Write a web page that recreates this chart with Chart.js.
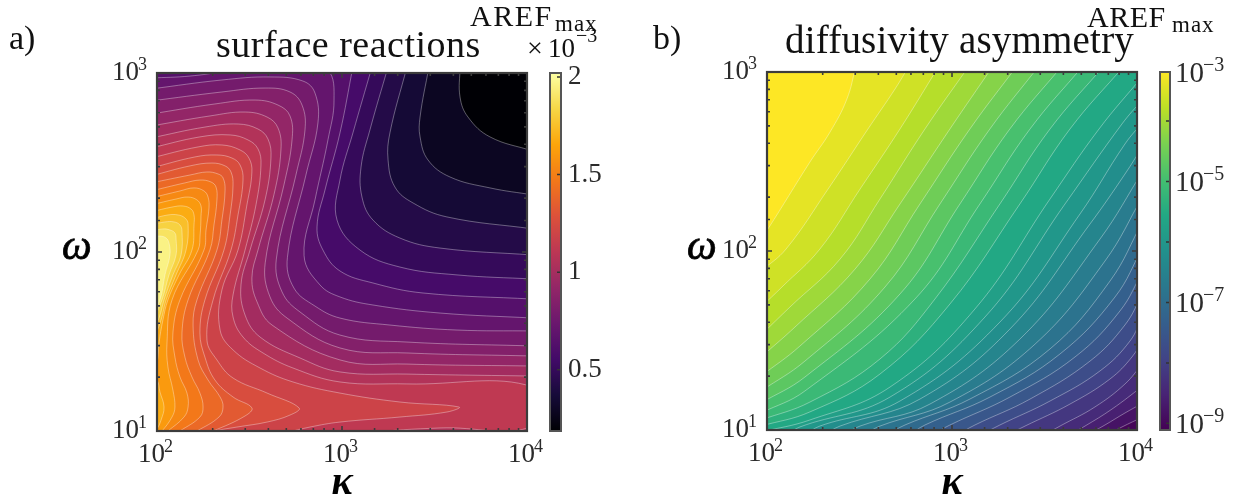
<!DOCTYPE html>
<html>
<head>
<meta charset="utf-8">
<title>AREF max maps</title>
<script src="https://cdn.jsdelivr.net/npm/chart.js@4"></script>
<style>
  html, body { margin: 0; background: #fff; overflow: hidden; }
  #page { position: relative; width: 1250px; height: 504px; overflow: hidden; }
  canvas { position: absolute; top: 0; }
</style>
</head>
<body>
<div id="page">
  <canvas id="panelA" width="625" height="504" style="left:0"></canvas>
  <canvas id="panelB" width="625" height="504" style="left:625px"></canvas>
  <canvas id="barA" width="90" height="504" style="left:535px"></canvas>
  <canvas id="barB" width="105" height="504" style="left:1145px"></canvas>
</div>
<script>
// axis ticks
const kappaTicks = [100, 1000, 10000];
const kappaExponents = ["2", "3", "4"];
const omegaTicks = [10, 100, 1000];
const omegaExponents = ["1", "2", "3"];

// colorbars
const surfaceBarRange = [0.187, 2.02];       // x 10^-3
const surfaceBarTicks = [0.5, 1, 1.5, 2];
const surfaceBarLabels = ["0.5", "1", "1.5", "2"];
const diffBarExponents = [-9.11, -3.19];
const diffBarTicks = [6.46e-4, 1e-4, 1e-5, 1e-6, 1e-7, 1e-8, 1e-9];
const diffBarLabels = ["−3", "", "−5", "", "−7", "", "−9"];

// colormap samples
const inferno = ["#000004", "#160b39", "#420a68", "#6a176e", "#932667", "#bc3754", "#dd513a", "#f37819", "#fca50a", "#f6d746", "#fcffa4"];
const viridis = ["#440154", "#482475", "#414487", "#355f8d", "#2a788e", "#21918c", "#22a884", "#44bf70", "#7ad151", "#bddf26", "#fde725"];

// contour lines, each point is [log10 kappa, log10 omega]
// a) surface reactions
const surfL01 = [[3.638,3.034],[3.638,2.866],[3.681,2.754],[3.800,2.643],[4.032,2.564]];
const surfL02 = [[3.470,3.034],[3.422,2.754],[3.422,2.643],[3.465,2.514],[3.584,2.419],[3.800,2.358],[4.032,2.319]];
const surfL03 = [[3.351,3.034],[3.259,2.665],[3.249,2.514],[3.286,2.363],[3.384,2.274],[3.567,2.196],[4.032,2.129]];
const surfL04 = [[3.249,3.034],[3.151,2.682],[3.103,2.475],[3.108,2.307],[3.167,2.179],[3.313,2.078],[3.530,2.022],[4.032,1.983]];
const surfL05 = [[3.162,3.034],[3.059,2.665],[2.989,2.402],[2.973,2.179],[3.097,2.011],[3.313,1.916],[3.622,1.872],[4.032,1.849]];
const surfL06 = [[3.059,3.034],[2.989,2.665],[2.908,2.346],[2.865,2.140],[2.897,2.011],[2.989,1.894],[3.167,1.827],[3.438,1.771],[4.032,1.737]];
const surfL07 = [[1.968,2.972],[2.178,2.983],[2.362,3.011],[2.557,3.062],[2.773,3.062],[2.924,3.017],[2.957,2.849],[2.924,2.626],[2.854,2.291],[2.795,1.980],[2.881,1.816],[2.989,1.749],[3.167,1.704],[3.530,1.659],[4.032,1.631]];
const surfL08 = [[1.968,2.911],[2.351,2.961],[2.611,2.978],[2.789,2.955],[2.854,2.888],[2.870,2.721],[2.805,2.430],[2.705,1.970],[2.740,1.799],[2.854,1.698],[2.989,1.631],[3.259,1.592],[3.622,1.564],[4.032,1.559]];
const surfL09 = [[1.968,2.844],[2.351,2.894],[2.584,2.916],[2.719,2.894],[2.784,2.821],[2.800,2.682],[2.751,2.430],[2.645,1.960],[2.676,1.777],[2.773,1.665],[2.989,1.536],[3.351,1.497],[4.032,1.475]];
const surfL10 = [[1.968,2.771],[2.313,2.827],[2.530,2.849],[2.654,2.821],[2.719,2.760],[2.730,2.626],[2.686,2.374],[2.585,1.940],[2.611,1.749],[2.703,1.631],[2.989,1.464],[3.351,1.436],[4.032,1.419]];
const surfL11 = [[1.968,2.704],[2.286,2.760],[2.476,2.782],[2.595,2.754],[2.654,2.693],[2.670,2.570],[2.632,2.319],[2.546,2.011],[2.513,1.855],[2.541,1.721],[2.622,1.592],[2.989,1.397],[3.351,1.374],[4.032,1.363]];
const surfL12 = [[1.968,2.637],[2.259,2.698],[2.438,2.715],[2.546,2.687],[2.600,2.631],[2.616,2.525],[2.584,2.291],[2.503,2.011],[2.454,1.816],[2.476,1.648],[2.557,1.525],[2.773,1.408],[2.989,1.330],[3.351,1.318],[4.032,1.307]];
const surfL13 = [[1.968,2.581],[2.232,2.643],[2.395,2.654],[2.492,2.626],[2.546,2.576],[2.562,2.486],[2.535,2.263],[2.476,2.011],[2.411,1.760],[2.411,1.637],[2.465,1.525],[2.573,1.436],[2.735,1.352],[2.989,1.274],[3.351,1.263],[4.032,1.246],[4.032,1.028],[3.530,1.017],[3.135,0.989],[2.989,0.955]];
const surfL14 = [[1.968,2.525],[2.222,2.587],[2.351,2.598],[2.449,2.570],[2.497,2.525],[2.513,2.447],[2.486,2.263],[2.438,2.011],[2.351,1.788],[2.341,1.564],[2.411,1.453],[2.557,1.352],[2.735,1.274],[2.989,1.212],[3.313,1.162],[3.632,1.134],[3.567,1.106],[3.313,1.078],[2.989,1.050],[2.827,1.022],[2.692,0.989],[2.557,0.955]];
const surfL15 = [[1.968,2.469],[2.205,2.531],[2.324,2.542],[2.405,2.525],[2.449,2.486],[2.465,2.402],[2.438,2.207],[2.400,2.011],[2.303,1.732],[2.270,1.508],[2.324,1.397],[2.411,1.296],[2.595,1.212],[2.768,1.129],[2.719,1.089],[2.595,1.050],[2.432,1.022],[2.313,1.000],[2.205,0.966]];
const surfL16 = [[1.968,2.425],[2.178,2.481],[2.297,2.497],[2.368,2.481],[2.400,2.447],[2.411,2.374],[2.395,2.207],[2.362,2.011],[2.259,1.732],[2.232,1.548],[2.259,1.413],[2.313,1.285],[2.411,1.190],[2.513,1.129],[2.476,1.084],[2.303,1.000],[2.205,0.966]];
const surfL17 = [[1.968,2.386],[2.178,2.430],[2.270,2.447],[2.330,2.436],[2.357,2.414],[2.368,2.346],[2.351,2.179],[2.324,2.011],[2.216,1.732],[2.195,1.592],[2.222,1.397],[2.276,1.285],[2.341,1.190],[2.357,1.134],[2.335,1.078],[2.216,1.000],[2.151,0.966]];
const surfL18 = [[1.968,2.341],[2.151,2.386],[2.232,2.402],[2.292,2.391],[2.319,2.363],[2.324,2.291],[2.308,2.151],[2.286,2.011],[2.168,1.732],[2.135,1.548],[2.151,1.413],[2.189,1.302],[2.232,1.212],[2.249,1.134],[2.232,1.078],[2.124,1.000],[2.070,0.966]];
const surfL19 = [[1.968,2.302],[2.124,2.341],[2.200,2.358],[2.254,2.341],[2.276,2.307],[2.281,2.246],[2.265,2.123],[2.254,2.011],[2.124,1.732],[2.086,1.548],[2.097,1.413],[2.124,1.302],[2.162,1.212],[2.168,1.134],[2.146,1.078],[2.059,1.000],[2.016,0.966]];
const surfL20 = [[1.968,2.263],[2.103,2.296],[2.168,2.307],[2.216,2.291],[2.238,2.257],[2.238,2.201],[2.233,2.095],[2.222,2.011],[2.081,1.732],[2.054,1.492],[2.059,1.358],[2.086,1.229],[2.097,1.134],[2.081,1.078],[2.027,1.000],[1.989,0.966]];
const surfL21 = [[1.968,2.224],[2.081,2.251],[2.141,2.257],[2.184,2.240],[2.200,2.207],[2.200,2.151],[2.189,2.011],[2.119,1.872],[2.059,1.732],[2.032,1.620],[2.011,1.492],[2.000,1.380],[1.968,1.313]];
const surfL21b = [[1.968,1.296],[2.000,1.285],[2.016,1.218],[2.038,1.134],[2.022,1.061],[2.000,1.011],[1.968,0.966]];
const surfL22 = [[1.968,2.184],[2.059,2.207],[2.114,2.207],[2.151,2.190],[2.168,2.157],[2.157,2.011],[2.103,1.872],[2.049,1.732],[2.022,1.620],[1.968,1.470]];
const surfL23 = [[1.968,2.151],[2.043,2.168],[2.092,2.168],[2.124,2.151],[2.135,2.117],[2.130,1.983],[2.086,1.872],[2.038,1.732],[2.011,1.631],[1.968,1.536]];
const surfL24 = [[1.968,2.117],[2.032,2.129],[2.070,2.123],[2.097,2.106],[2.103,2.073],[2.103,1.983],[2.065,1.872],[2.027,1.732],[1.968,1.590]];
const surfL25 = [[1.968,2.084],[2.016,2.089],[2.049,2.078],[2.065,2.050],[2.070,1.983],[2.043,1.872],[2.016,1.732],[1.968,1.640]];
const surfContours = [surfL01, surfL02, surfL03, surfL04, surfL05, surfL06, surfL07, surfL08, surfL09, surfL10, surfL11, surfL12, surfL13, surfL14, surfL15, surfL16, surfL17, surfL18, surfL19, surfL20, surfL21, surfL21b, surfL22, surfL23, surfL24, surfL25];
// value of the band inside each contour, x 10^-3
const surfBase = 0.19;
const surfBands = [0.29, 0.36, 0.43, 0.50, 0.57, 0.64, 0.71, 0.78, 0.85, 0.92, 0.99, 1.06, 1.12, 1.19, 1.26, 1.33, 1.40, 1.47, 1.54, 1.61, 1.68, 1.68, 1.75, 1.82, 1.89, 1.96];

// b) diffusivity asymmetry
const diffL01 = [[1.968,2.073],[2.005,2.123],[2.232,2.497],[2.341,2.665],[2.432,2.849],[2.481,3.034]];
const diffL02 = [[1.968,1.888],[2.103,2.011],[2.330,2.346],[2.546,2.682],[2.692,2.905],[2.768,3.034]];
const diffL03 = [[1.968,1.687],[2.081,1.799],[2.286,2.011],[2.503,2.346],[2.719,2.682],[2.930,3.034]];
const diffL04 = [[1.968,1.531],[2.124,1.687],[2.395,1.955],[2.611,2.291],[2.854,2.682],[3.092,3.034]];
const diffL05 = [[1.968,1.408],[2.151,1.575],[2.476,1.899],[2.719,2.263],[2.989,2.682],[3.222,3.034]];
const diffL06 = [[1.968,1.302],[2.178,1.469],[2.557,1.844],[2.827,2.263],[3.097,2.682],[3.351,3.034]];
const diffL07 = [[1.968,1.218],[2.205,1.385],[2.638,1.799],[2.935,2.263],[3.205,2.682],[3.470,3.034]];
const diffL08 = [[1.968,1.151],[2.205,1.296],[2.719,1.760],[3.043,2.263],[3.313,2.682],[3.595,3.034]];
const diffL09 = [[1.968,1.095],[2.205,1.218],[2.800,1.732],[3.151,2.263],[3.422,2.682],[3.708,3.034]];
const diffL10 = [[1.968,1.056],[2.232,1.156],[2.611,1.397],[2.908,1.732],[3.259,2.263],[3.530,2.682],[3.821,3.034]];
const diffL11 = [[1.968,1.022],[2.232,1.101],[2.611,1.313],[2.989,1.704],[3.367,2.263],[3.638,2.682],[3.930,3.034]];
const diffL12 = [[1.968,0.989],[2.232,1.056],[2.665,1.240],[3.124,1.676],[3.530,2.291],[3.795,2.682],[4.032,2.978]];
const diffL13 = [[2.097,0.966],[2.178,1.017],[2.665,1.184],[3.178,1.631],[3.611,2.263],[3.919,2.710],[4.032,2.849]];
const diffL14 = [[2.195,0.966],[2.286,1.022],[2.719,1.162],[3.259,1.603],[3.692,2.207],[3.935,2.598],[4.032,2.721]];
const diffL15 = [[2.297,0.966],[2.395,1.022],[2.827,1.173],[3.313,1.564],[3.746,2.151],[3.935,2.430],[4.032,2.587]];
const diffL16 = [[2.405,0.966],[2.503,1.022],[2.881,1.145],[3.367,1.508],[3.800,2.067],[4.032,2.447]];
const diffL17 = [[2.513,0.966],[2.611,1.022],[2.989,1.156],[3.449,1.480],[3.827,1.944],[4.032,2.307]];
const diffL18 = [[2.638,0.966],[2.746,1.028],[3.097,1.173],[3.530,1.453],[3.854,1.832],[4.032,2.168]];
const diffL19 = [[2.762,0.966],[2.854,1.028],[3.205,1.184],[3.584,1.425],[3.881,1.743],[4.032,2.022]];
const diffL20 = [[2.881,0.966],[2.989,1.028],[3.313,1.184],[3.665,1.408],[3.908,1.665],[4.032,1.888]];
const diffL21 = [[3.016,0.966],[3.124,1.028],[3.422,1.173],[3.746,1.385],[3.935,1.587],[4.032,1.765]];
const diffL22 = [[3.146,0.966],[3.259,1.028],[3.530,1.162],[3.800,1.330],[3.962,1.497],[4.032,1.643]];
const diffL23 = [[3.286,0.966],[3.395,1.022],[3.638,1.145],[3.854,1.285],[3.973,1.408],[4.032,1.508]];
const diffL24 = [[3.486,0.966],[3.584,1.022],[3.773,1.129],[3.935,1.257],[4.032,1.374]];
const diffL25 = [[3.622,0.966],[3.719,1.022],[3.865,1.117],[4.032,1.246]];
const diffL26 = [[3.719,0.966],[3.827,1.028],[3.935,1.095],[4.032,1.151]];
const diffL27 = [[3.827,0.966],[3.919,1.017],[4.032,1.073]];
const diffContours = [diffL27, diffL26, diffL25, diffL24, diffL23, diffL22, diffL21, diffL20, diffL19, diffL18, diffL17, diffL16, diffL15, diffL14, diffL13, diffL12, diffL11, diffL10, diffL09, diffL08, diffL07, diffL06, diffL05, diffL04, diffL03, diffL02, diffL01];
// log10 of the band on the high side of each contour, same order as diffContours
const diffBase = -9.03;
const diffBands = [-8.81, -8.59, -8.38, -8.16, -7.94, -7.73, -7.51, -7.30, -7.08, -6.86, -6.65, -6.43, -6.22, -6.00, -5.78, -5.57, -5.35, -5.13, -4.92, -4.70, -4.49, -4.27, -4.05, -3.84, -3.62, -3.41, -3.19];

const SERIF = '"Liberation Serif"';
const LO_K = 1.9, HI_K = 4.1, LO_W = 0.9, HI_W = 3.1;

function cmap(stops, t) {
  t = Math.min(1, Math.max(0, t)) * (stops.length - 1);
  const i = Math.min(stops.length - 2, Math.floor(t));
  const hex = s => [1, 3, 5].map(p => parseInt(s.substr(p, 2), 16));
  const a = hex(stops[i]), b = hex(stops[i + 1]);
  const c = a.map((v, k) => Math.round(v + (b[k] - v) * (t - i)));
  return `rgb(${c[0]},${c[1]},${c[2]})`;
}

function toPoints(pts) {
  return pts.map(p => ({ x: 10 ** p[0], y: 10 ** p[1] }));
}

// one more off-plot point, keeps the curve tangent the same for the fill and the line
function runOut(pts) {
  const a = pts[pts.length - 2], b = pts[pts.length - 1];
  return [...pts, [2 * b[0] - a[0], 2 * b[1] - a[1]]];
}

// a) the high side is below and left of each line
function closeSurface(pts) {
  const out = runOut(pts);
  const first = pts[0], last = pts[pts.length - 1];
  if (last[0] > 4) out.push([HI_K, LO_W]);
  if (last[0] > 4 || last[1] < 1) out.push([LO_K, LO_W]);
  if (first[1] > 3) out.push([LO_K, HI_W]);
  return out;
}

// b) the high side is above and left of each line
function closeDiff(pts) {
  const out = runOut(pts);
  const first = pts[0], last = pts[pts.length - 1];
  if (last[0] > 4) out.push([HI_K, HI_W]);
  out.push([LO_K, HI_W]);
  if (first[1] < 1) out.push([LO_K, LO_W]);
  return out;
}

function contourDatasets(contours, closeFn, baseColor, colors) {
  const sets = [{
    data: toPoints([[LO_K, LO_W], [HI_K, LO_W], [HI_K, HI_W], [LO_K, HI_W]]),
    showLine: true, fill: "shape", backgroundColor: baseColor, borderWidth: 0, pointRadius: 0, tension: 0, order: 1000
  }];
  contours.forEach((c, i) => {
    sets.push({
      data: toPoints(closeFn(c)),
      showLine: true, fill: "shape", backgroundColor: colors[i], borderWidth: 0, pointRadius: 0, tension: 0.4, order: 900 - i
    });
  });
  contours.forEach(c => {
    sets.push({
      data: toPoints(runOut(c)),
      showLine: true, fill: false, borderColor: "rgba(255,255,255,0.5)", borderWidth: 0.7, pointRadius: 0, tension: 0.4, order: 0
    });
  });
  return sets;
}

// frame, short inward ticks and the 10^n labels, placed through the scales
const framePlugin = {
  id: "frame",
  afterDatasetsDraw(chart) {
    const { ctx, chartArea: a, scales } = chart;
    ctx.save();
    ctx.strokeStyle = "#3c3c3c";
    ctx.lineWidth = 1.6;
    ctx.beginPath();
    scales.x.ticks.forEach(t => {
      const px = scales.x.getPixelForValue(t.value);
      const len = kappaTicks.includes(Math.round(t.value)) ? 5 : 3;
      ctx.moveTo(px, a.bottom); ctx.lineTo(px, a.bottom - len);
      ctx.moveTo(px, a.top); ctx.lineTo(px, a.top + len);
    });
    scales.y.ticks.forEach(t => {
      const py = scales.y.getPixelForValue(t.value);
      const len = omegaTicks.includes(Math.round(t.value)) ? 5 : 3;
      ctx.moveTo(a.left, py); ctx.lineTo(a.left + len, py);
      ctx.moveTo(a.right, py); ctx.lineTo(a.right - len, py);
    });
    ctx.stroke();
    ctx.lineWidth = 2.2;
    ctx.strokeRect(a.left, a.top, a.right - a.left, a.bottom - a.top);

    ctx.fillStyle = "#2b2b2b";
    ctx.textAlign = "left";
    ctx.textBaseline = "alphabetic";
    kappaTicks.forEach((v, i) => {
      const px = scales.x.getPixelForValue(v);
      ctx.font = `27px ${SERIF}`;
      ctx.fillText("10", px - 19, a.bottom + 31);
      ctx.font = `18px ${SERIF}`;
      ctx.fillText(kappaExponents[i], px + 7, a.bottom + 21);
    });
    omegaTicks.forEach((v, i) => {
      const py = scales.y.getPixelForValue(v);
      ctx.font = `27px ${SERIF}`;
      ctx.fillText("10", a.left - 45, py + 7);
      ctx.font = `18px ${SERIF}`;
      ctx.fillText(omegaExponents[i], a.left - 19, py - 3);
    });
    ctx.restore();
  }
};

// free text: panel letters, titles, colorbar titles, omega (printed upright)
const textPlugin = {
  id: "panelText",
  afterDraw(chart, args, opts) {
    const { ctx } = chart;
    ctx.save();
    ctx.textBaseline = "alphabetic";
    ctx.textAlign = "left";
    (opts.items || []).forEach(it => {
      ctx.font = it.font;
      ctx.fillStyle = it.color || "#111";
      ctx.letterSpacing = (it.spacing || 0) + "px";
      ctx.fillText(it.text, it.x, it.y);
      if (it.heavy) {
        ctx.strokeStyle = ctx.fillStyle;
        ctx.lineWidth = it.heavy;
        ctx.strokeText(it.text, it.x, it.y);
      }
    });
    ctx.restore();
  }
};

function panel(id, contours, closeFn, baseColor, colors, items, leftWidth, rightPad, top, xHeight) {
  return new Chart(document.getElementById(id), {
    type: "scatter",
    data: { datasets: contourDatasets(contours, closeFn, baseColor, colors) },
    plugins: [framePlugin, textPlugin],
    options: {
      responsive: false,
      animation: false,
      events: [],
      layout: { padding: { top, right: rightPad, bottom: 0, left: 0 } },
      elements: { line: { capBezierPoints: false } },
      plugins: { legend: { display: false }, tooltip: { enabled: false }, panelText: { items } },
      scales: {
        x: {
          type: "logarithmic", min: 100, max: 10000,
          grid: { display: false }, border: { display: false },
          afterFit: s => { s.height = xHeight; },
          title: { display: true, text: "κ", color: "#000", font: { family: SERIF, size: 40, style: "italic", weight: "bold", lineHeight: 1 }, padding: { top: 0, bottom: 0 } },
          ticks: { display: false, autoSkip: false }
        },
        y: {
          type: "logarithmic", min: 10, max: 1000,
          grid: { display: false }, border: { display: false },
          afterFit: s => { s.width = leftWidth; },
          ticks: { display: false, autoSkip: false }
        }
      }
    }
  });
}

const barFrame = {
  id: "barFrame",
  afterDatasetsDraw(chart, args, opts) {
    const { ctx, chartArea: a, scales } = chart;
    ctx.save();
    ctx.strokeStyle = "#333";
    ctx.lineWidth = 1.5;
    ctx.beginPath();
    scales.y.ticks.forEach(t => {
      const py = scales.y.getPixelForValue(t.value);
      ctx.moveTo(a.right, py); ctx.lineTo(a.right - 4, py);
    });
    ctx.stroke();
    ctx.strokeStyle = "#555";
    ctx.lineWidth = 2;
    ctx.strokeRect(a.left, a.top, a.right - a.left, a.bottom - a.top);
    if (opts.powers) {
      ctx.fillStyle = "#2b2b2b";
      ctx.textAlign = "left";
      ctx.textBaseline = "alphabetic";
      scales.y.ticks.forEach((t, i) => {
        if (!diffBarLabels[i]) return;
        const py = scales.y.getPixelForValue(t.value);
        ctx.font = `29px ${SERIF}`;
        ctx.fillText("10", a.right + 5, py + 10);
        ctx.font = `20px ${SERIF}`;
        ctx.fillText(diffBarLabels[i], a.right + 33, py - 1);
      });
    }
    ctx.restore();
  }
};

function colorbar(id, stops, range, ticks, labels, type, yWidth, tickPad, top, powers) {
  return new Chart(document.getElementById(id), {
    type: "bar",
    data: {
      labels: [""],
      datasets: [{
        data: [range],
        barPercentage: 1,
        categoryPercentage: 1,
        backgroundColor(c) {
          const area = c.chart.chartArea;
          if (!area) return stops[0];
          const g = c.chart.ctx.createLinearGradient(0, area.bottom, 0, area.top);
          stops.forEach((s, i) => g.addColorStop(i / (stops.length - 1), s));
          return g;
        }
      }]
    },
    plugins: [barFrame],
    options: {
      responsive: false,
      animation: false,
      events: [],
      layout: { padding: { top, right: 0, bottom: 504 - 358 - top, left: 15 } },
      plugins: { legend: { display: false }, tooltip: { enabled: false }, barFrame: { powers } },
      scales: {
        x: { display: false },
        y: {
          type, position: "right", min: range[0], max: range[1],
          grid: { display: false, drawTicks: false }, border: { display: false },
          afterFit: s => { s.width = yWidth; },
          afterBuildTicks: s => { s.ticks = ticks.map(v => ({ value: v })); },
          ticks: {
            display: !powers, autoSkip: false, maxRotation: 0, minRotation: 0, padding: tickPad, color: "#2b2b2b",
            font: { family: SERIF, size: 27 },
            callback: (v, i) => labels[i]
          }
        }
      }
    }
  });
}

const surfT = v => (v - surfaceBarRange[0]) / (surfaceBarRange[1] - surfaceBarRange[0]);
const diffT = v => (v - diffBarExponents[0]) / (diffBarExponents[1] - diffBarExponents[0]);

panel("panelA", surfContours, closeSurface, cmap(inferno, surfT(surfBase)), surfBands.map(v => cmap(inferno, surfT(v))), [
  { text: "a)", x: 9, y: 49, font: `34px ${SERIF}` },
  { text: "surface reactions", x: 216, y: 57, font: `38px ${SERIF}`, spacing: 0.5 },
  { text: "AREF", x: 470, y: 26, font: `30px ${SERIF}`, spacing: 1.5 },
  { text: "max", x: 555, y: 31, font: `23px ${SERIF}`, spacing: 1 },
  { text: "×", x: 527, y: 57, font: `28px ${SERIF}` },
  { text: "10", x: 548, y: 57, font: `27px ${SERIF}` },
  { text: "−3", x: 576, y: 42, font: `20px ${SERIF}` },
  { text: "ω", x: 62, y: 259, font: `italic 42px ${SERIF}`, color: "#000", heavy: 0.8 }
], 157, 98, 73, 73);

panel("panelB", diffContours, closeDiff, cmap(viridis, diffT(diffBase)), diffBands.map(v => cmap(viridis, diffT(v))), [
  { text: "b)", x: 28, y: 49, font: `34px ${SERIF}` },
  { text: "diffusivity asymmetry", x: 160, y: 53, font: `39px ${SERIF}`, spacing: 0.2 },
  { text: "AREF", x: 462, y: 27, font: `30px ${SERIF}`, spacing: 0.5 },
  { text: "max", x: 547, y: 32, font: `23px ${SERIF}`, spacing: 1 },
  { text: "ω", x: 62, y: 259, font: `italic 42px ${SERIF}`, color: "#000", heavy: 0.8 }
], 142, 113, 72, 74);

colorbar("barA", inferno, surfaceBarRange, surfaceBarTicks, surfaceBarLabels, "linear", 64, 7, 73, false);
colorbar("barB", viridis, diffBarExponents.map(e => 10 ** e), diffBarTicks, diffBarLabels, "logarithmic", 80, 5, 72, true);
</script>
</body>
</html>
